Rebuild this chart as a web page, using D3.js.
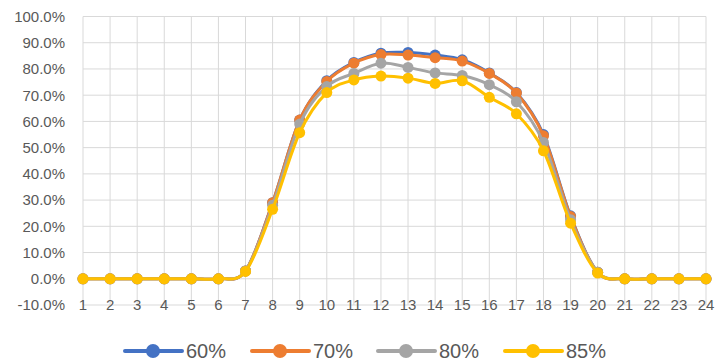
<!DOCTYPE html>
<html>
<head>
<meta charset="utf-8">
<script src="https://cdn.jsdelivr.net/npm/d3@7"></script>
<style>
  body { margin: 0; background: #fff; }
  text { font-family: "Liberation Sans", Arial, sans-serif; fill: #595959; }
</style>
</head>
<body>
<div id="chart"></div>
<script>
var hours = d3.range(1, 25);
var seriesNames = ["60%", "70%", "80%", "85%"];
var colors = ["#4472C4", "#ED7D31", "#A5A5A5", "#FFC000"];
var s60 = [0,0,0,0,0,0,3.0,29.0,60.5,75.5,82.5,86.0,86.3,85.3,83.5,78.5,71.0,55.0,24.0,2.5,0,0,0,0];
var s70 = [0,0,0,0,0,0,3.0,29.0,60.5,75.2,82.2,85.5,85.3,84.3,83.0,78.3,70.8,54.5,23.7,2.5,0,0,0,0];
var s80 = [0,0,0,0,0,0,3.0,28.0,59.0,73.3,78.3,82.2,80.6,78.5,77.5,74.0,67.5,52.0,22.5,2.5,0,0,0,0];
var s85 = [0,0,0,0,0,0,2.8,26.5,55.7,71.0,75.8,77.3,76.5,74.5,75.5,69.2,62.9,48.8,21.2,2.2,0,0,0,0];
var yTicks = d3.range(-10, 101, 10);

function main() {
    var width = 716, height = 361;
    var svg = d3.select("#chart").append("svg")
        .attr("width", width).attr("height", height);

    var x = d3.scaleLinear().domain([1, 24]).range([83, 706]);
    var y = d3.scaleLinear().domain([-10, 100]).range([305, 16.5]);

    // gridlines
    svg.append("g").selectAll("line.h")
        .data(yTicks).enter().append("line")
        .attr("x1", x(1)).attr("x2", x(24))
        .attr("y1", d => y(d)).attr("y2", d => y(d))
        .attr("stroke", "#D9D9D9").attr("stroke-width", 1);
    svg.append("g").selectAll("line.v")
        .data(hours).enter().append("line")
        .attr("x1", d => x(d)).attr("x2", d => x(d))
        .attr("y1", y(100)).attr("y2", y(-10))
        .attr("stroke", "#D9D9D9").attr("stroke-width", 1);

    // y labels
    svg.append("g").selectAll("text")
        .data(yTicks).enter().append("text")
        .attr("x", 65).attr("y", d => y(d))
        .attr("dy", "0.36em")
        .attr("text-anchor", "end")
        .style("font-size", "15px")
        .text(d => d.toFixed(1) + "%");

    // x labels
    svg.append("g").selectAll("text")
        .data(hours).enter().append("text")
        .attr("x", d => x(d)).attr("y", 305)
        .attr("dy", "0.36em")
        .attr("text-anchor", "middle")
        .style("font-size", "15px")
        .text(d => d);

    var all = [s60, s70, s80, s85];
    var line = d3.line()
        .x((d, i) => x(hours[i]))
        .y(d => y(d))
        .curve(d3.curveCardinal.tension(0));

    all.forEach(function(vals, k) {
        var g = svg.append("g");
        g.append("path")
            .attr("d", line(vals))
            .attr("fill", "none")
            .attr("stroke", colors[k])
            .attr("stroke-width", 3);
        g.selectAll("circle")
            .data(vals).enter().append("circle")
            .attr("cx", (d, i) => x(hours[i]))
            .attr("cy", d => y(d))
            .attr("r", 5.5)
            .attr("fill", colors[k]);
    });

    // legend
    var legX = [125, 252, 378, 505];
    var leg = svg.append("g").selectAll("g")
        .data(seriesNames).enter().append("g")
        .attr("transform", (d, i) => "translate(" + legX[i] + ",351)");
    leg.append("line")
        .attr("x1", 0).attr("x2", 57)
        .attr("stroke", (d, i) => colors[i])
        .attr("stroke-width", 4)
        .attr("stroke-linecap", "round");
    leg.append("circle")
        .attr("cx", 28).attr("r", 7)
        .attr("fill", (d, i) => colors[i]);
    leg.append("text")
        .attr("x", 61).attr("dy", "0.36em")
        .style("font-size", "20px")
        .text(d => d);
}
main();
</script>
</body>
</html>
